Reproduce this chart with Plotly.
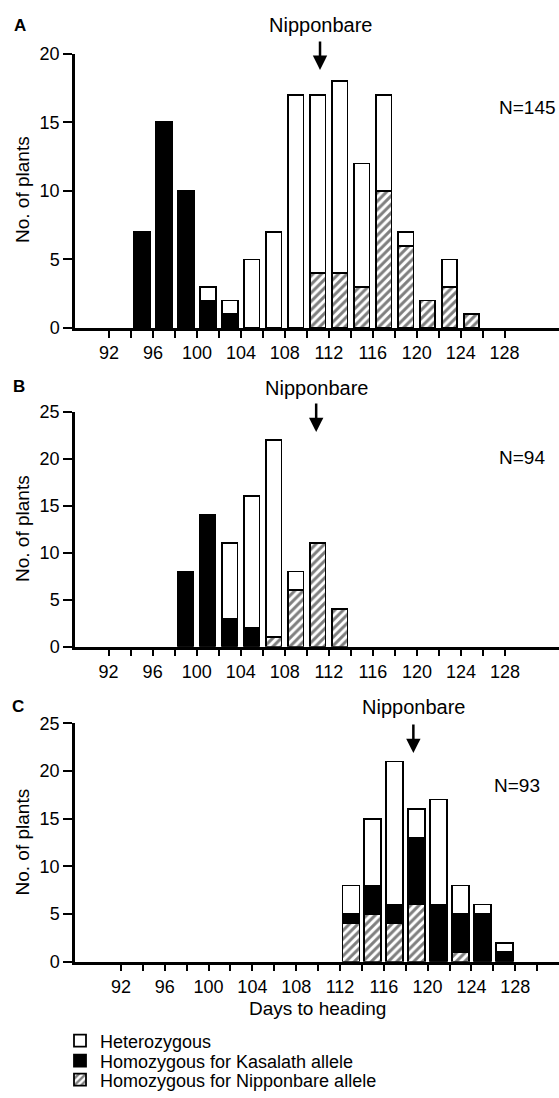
import plotly.graph_objects as go

# ---------------- data ----------------
days_A = [95, 97, 99, 101, 103, 105, 107, 109, 111, 113, 115, 117, 119, 121, 123, 125]
nip_A = [0, 0, 0, 0, 0, 0, 0, 0, 4, 4, 3, 10, 6, 2, 3, 1]
kas_A = [7, 15, 10, 2, 1, 0, 0, 0, 0, 0, 0, 0, 0, 0, 0, 0]
het_A = [0, 0, 0, 1, 1, 5, 7, 17, 13, 14, 9, 7, 1, 0, 2, 0]

days_B = [99, 101, 103, 105, 107, 109, 111, 113]
nip_B = [0, 0, 0, 0, 1, 6, 11, 4]
kas_B = [8, 14, 3, 2, 0, 0, 0, 0]
het_B = [0, 0, 8, 14, 21, 2, 0, 0]

days_C = [113, 115, 117, 119, 121, 123, 125, 127]
nip_C = [4, 5, 4, 6, 0, 1, 0, 0]
kas_C = [1, 3, 2, 7, 6, 4, 5, 1]
het_C = [3, 7, 15, 3, 11, 3, 1, 1]

panel_labels = ["A", "B", "C"]
n_labels = ["N=145", "N=94", "N=93"]
nipponbare_day = [111.2, 110.85, 118.7]
series_names = ["Homozygous for Nipponbare allele", "Homozygous for Kasalath allele", "Heterozygous"]

x_tick_vals_AB = list(range(92, 129, 2))
x_tick_vals_C = list(range(92, 131, 2))
y_ticks_A = [0, 5, 10, 15, 20]
y_ticks_BC = [0, 5, 10, 15, 20, 25]

# ---------------- layout helpers ----------------
W, H = 559, 1098
FONT = "Liberation Sans, Arial, Helvetica, sans-serif"


def px(x):
    return x / W


def py(y):
    return 1 - y / H


fig = go.Figure()

panels = [
    (days_A, nip_A, kas_A, het_A, 1.4),
    (days_B, nip_B, kas_B, het_B, 1.4),
    (days_C, nip_C, kas_C, het_C, 1.55),
]
legend_ids = ["legend3", "legend2", "legend"]

for i, (days, nip, kas, het, bw) in enumerate(panels):
    xa = "x" if i == 0 else f"x{i+1}"
    ya = "y" if i == 0 else f"y{i+1}"
    styles = [
        (nip, dict(color="white", line=dict(color="black", width=1.8),
                   pattern=dict(shape="/", fgcolor="black", bgcolor="white", size=6, solidity=0.5))),
        (kas, dict(color="black", line=dict(color="black", width=1.8))),
        (het, dict(color="white", line=dict(color="black", width=1.8))),
    ]
    for (vals, marker), name, lg in zip(styles, series_names, legend_ids):
        fig.add_trace(go.Bar(
            x=days, y=[v if v else None for v in vals], width=bw,
            marker=marker, name=name, legendgroup=name, legend=lg,
            showlegend=(i == 0), xaxis=xa, yaxis=ya, hoverinfo="skip",
        ))

common_x = dict(showline=True, linewidth=2.5, linecolor="black", ticks="outside",
                ticklen=7, tickwidth=2, tickcolor="black", showgrid=False, zeroline=False,
                tickfont=dict(family=FONT, size=18, color="black"), fixedrange=True,
                domain=[px(75), 1.0], tickmode="array", automargin=False)
common_y = dict(showline=True, linewidth=2.5, linecolor="black", ticks="outside",
                ticklen=9, tickwidth=2, tickcolor="black", showgrid=False, zeroline=False,
                tickfont=dict(family=FONT, size=18, color="black"), fixedrange=True,
                tickmode="array", automargin=False)


def xticks(vals):
    return dict(tickvals=vals, ticktext=[str(v) if v % 4 == 0 else "" for v in vals])


def leg(ycenter):
    return dict(x=px(60), y=py(ycenter), xanchor="left", yanchor="middle",
                font=dict(family=FONT, size=18, color="black"), bgcolor="rgba(0,0,0,0)",
                itemclick=False, itemdoubleclick=False)


fig.update_layout(
    width=W, height=H, margin=dict(l=0, r=0, t=0, b=0, autoexpand=False),
    paper_bgcolor="white", plot_bgcolor="white", barmode="stack",
    font=dict(family=FONT, color="black"),
    xaxis=dict(**common_x, **xticks(x_tick_vals_AB), range=[88.9, 132.95], anchor="y"),
    yaxis=dict(**common_y, tickvals=y_ticks_A, range=[0, 20], domain=[py(328), py(53.8)], anchor="x"),
    xaxis2=dict(**common_x, **xticks(x_tick_vals_AB), range=[88.95, 132.9], anchor="y2"),
    yaxis2=dict(**common_y, tickvals=y_ticks_BC, range=[0, 25], domain=[py(646.7), py(411.7)], anchor="x2"),
    xaxis3=dict(**common_x, **xticks(x_tick_vals_C), range=[87.8, 132.0], anchor="y3"),
    yaxis3=dict(**common_y, tickvals=y_ticks_BC, range=[0, 25], domain=[py(961.7), py(723.3)], anchor="x3"),
    legend=leg(1041),
    legend2=leg(1061),
    legend3=leg(1080),
)

# annotations
letter_y = [26, 386, 706]
letter_x = [20, 19, 18]
nip_text_y = [25, 388, 707]
arrow_tip_y = [70, 432, 753]
n_pos = [(527, 107), (522, 458), (517, 785)]
ytitle_y = [190, 529, 842.5]
for i in range(3):
    xr = "x" if i == 0 else f"x{i+1}"
    fig.add_annotation(text=f"<b>{panel_labels[i]}</b>", x=px(letter_x[i]), y=py(letter_y[i]),
                       xref="paper", yref="paper", showarrow=False, xanchor="center", yanchor="middle",
                       font=dict(family=FONT, size=17, color="black"))
    fig.add_annotation(text="Nipponbare", x=nipponbare_day[i], y=py(nip_text_y[i]),
                       xref=xr, yref="paper", showarrow=False, xanchor="center", yanchor="middle",
                       font=dict(family=FONT, size=20, color="black"))
    fig.add_annotation(text="", x=nipponbare_day[i], y=py(arrow_tip_y[i]),
                       xref=xr, yref="paper", showarrow=True, ax=0, ay=-30,
                       arrowhead=2, arrowsize=1.15, arrowwidth=2.5, arrowcolor="black")
    fig.add_annotation(text=n_labels[i], x=px(n_pos[i][0]), y=py(n_pos[i][1]),
                       xref="paper", yref="paper", showarrow=False, xanchor="center", yanchor="middle",
                       font=dict(family=FONT, size=19, color="black"))
    fig.add_annotation(text="No. of plants", x=px(22), y=py(ytitle_y[i]), textangle=-90,
                       xref="paper", yref="paper", showarrow=False, xanchor="center", yanchor="middle",
                       font=dict(family=FONT, size=19, color="black"))

fig.add_annotation(text="Days to heading", x=px(317), y=py(1008), xref="paper", yref="paper",
                   showarrow=False, xanchor="center", yanchor="middle",
                   font=dict(family=FONT, size=19, color="black"))

fig.write_html("out.html", config={"displayModeBar": False},
               post_script="document.body.style.margin='0px';")
